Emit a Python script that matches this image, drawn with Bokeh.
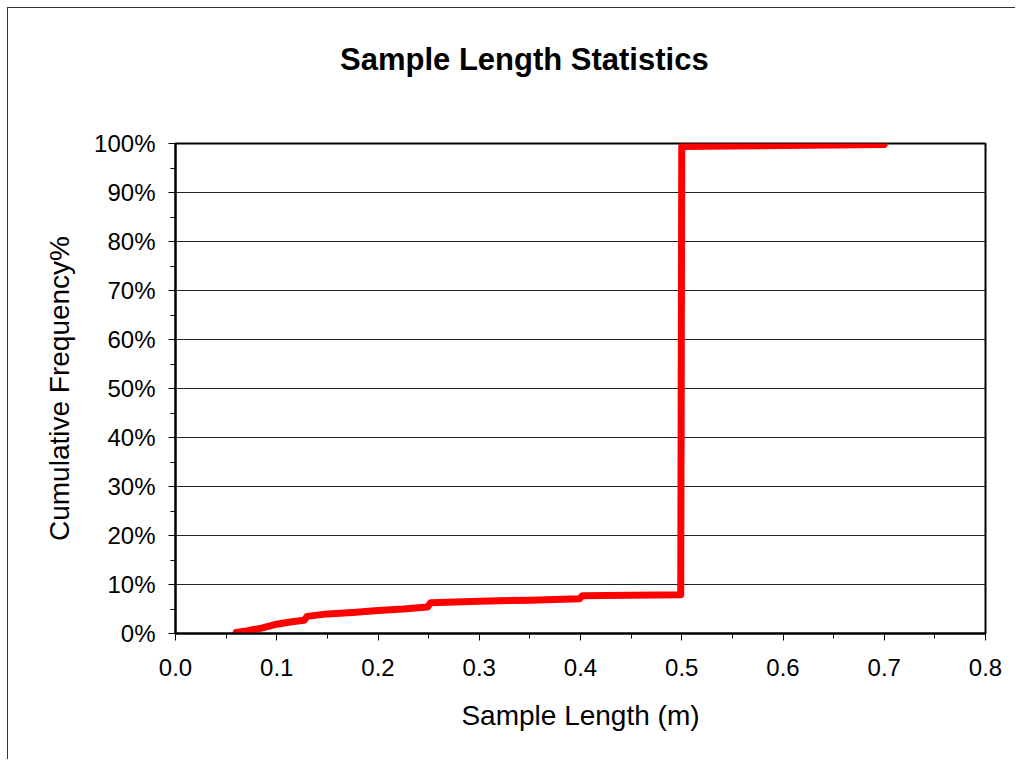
from bokeh.plotting import figure
from bokeh.models import Range1d, FixedTicker, NumeralTickFormatter, Div
from bokeh.layouts import column
from bokeh.embed import file_html
from bokeh.resources import INLINE

# Cumulative distribution of sample lengths
sample_length = [0.060, 0.070, 0.085, 0.100, 0.115, 0.127, 0.130, 0.150, 0.175, 0.200,
                 0.225, 0.249, 0.252, 0.300, 0.350, 0.399, 0.402, 0.450, 0.499,
                 0.500, 0.550, 0.600, 0.650, 0.700]
cum_freq = [0.002, 0.005, 0.011, 0.019, 0.024, 0.027, 0.035, 0.040, 0.043, 0.047,
            0.050, 0.054, 0.063, 0.066, 0.068, 0.071, 0.077, 0.078, 0.079,
            0.994, 0.995, 0.996, 0.997, 0.998]

x_ticks = [0.0, 0.1, 0.2, 0.3, 0.4, 0.5, 0.6, 0.7, 0.8]
x_minor = [0.05, 0.15, 0.25, 0.35, 0.45, 0.55, 0.65, 0.75]
y_ticks = [0.0, 0.1, 0.2, 0.3, 0.4, 0.5, 0.6, 0.7, 0.8, 0.9, 1.0]
y_minor = [0.05, 0.15, 0.25, 0.35, 0.45, 0.55, 0.65, 0.75, 0.85, 0.95]

FONT = "Liberation Sans"

title = Div(text="Sample Length Statistics", width=1007, height=100,
            styles={"font-family": FONT, "font-size": "31px", "font-weight": "bold",
                    "color": "black", "line-height": "36px", "padding-top": "34px",
                    "padding-left": "332px", "text-align": "left", "margin": "0",
                    "background-color": "white"})

p = figure(width=1007, height=651, output_backend="svg", toolbar_location=None,
           x_range=Range1d(0, 0.8), y_range=Range1d(0, 1.0),
           min_border_left=167, min_border_right=30, min_border_top=35, min_border_bottom=126)

p.line(sample_length, cum_freq, line_color="#FF0000", line_width=7, line_join="round", line_cap="round")

p.outline_line_color = "black"
p.outline_line_width = 2
p.background_fill_color = "white"
p.border_fill_color = "white"

p.xgrid.visible = False
p.ygrid.ticker = FixedTicker(ticks=y_ticks)
p.ygrid.grid_line_color = "#222222"
p.ygrid.grid_line_width = 1

p.xaxis.ticker = FixedTicker(ticks=x_ticks, minor_ticks=x_minor)
p.xaxis.formatter = NumeralTickFormatter(format="0.0")
p.yaxis.ticker = FixedTicker(ticks=y_ticks, minor_ticks=y_minor)
p.yaxis.formatter = NumeralTickFormatter(format="0%")

for ax in (p.xaxis, p.yaxis):
    ax.axis_line_color = "black"
    ax.axis_line_width = 2
    ax.major_tick_line_color = "black"
    ax.minor_tick_line_color = "black"
    ax.major_tick_line_width = 1
    ax.minor_tick_line_width = 1
    ax.major_tick_in = 0
    ax.minor_tick_in = 0
    ax.major_tick_out = 7
    ax.minor_tick_out = 5
    ax.major_label_text_font = FONT
    ax.major_label_text_font_size = "24px"
    ax.major_label_text_color = "black"
    ax.axis_label_text_font = FONT
    ax.axis_label_text_font_size = "28px"
    ax.axis_label_text_font_style = "normal"
    ax.axis_label_text_color = "black"

p.xaxis.axis_label = "Sample Length (m)"
p.yaxis.axis_label = "Cumulative Frequency%"
p.xaxis.major_label_standoff = 18
p.yaxis.major_label_standoff = 13
p.xaxis.axis_label_standoff = 21
p.yaxis.axis_label_standoff = 16

layout = column(title, p, spacing=0,
                styles={"margin-left": "7px", "margin-top": "7px",
                        "border-left": "1px solid #333", "border-top": "1px solid #333",
                        "background-color": "white"})

open("out.html", "w").write(file_html(layout, INLINE))
